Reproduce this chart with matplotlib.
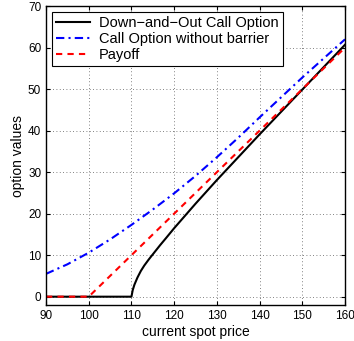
import matplotlib
matplotlib.use("Agg")
import matplotlib.pyplot as plt

plt.rcParams['font.family'] = ['Liberation Sans', 'DejaVu Sans']

# Down-and-Out Call Option
s_dao = [90, 100, 110, 110.3, 110.7, 111.4, 112.2, 113, 114, 115, 116.7, 118, 120,
         125, 130, 135, 140, 145, 150, 155, 160]
v_dao = [0, 0, 0, 1.6, 2.9, 4.6, 6.2, 7.5, 8.9, 10.2, 12.4, 14.0, 16.5,
         22.4, 28.1, 33.6, 39.1, 44.5, 49.9, 55.3, 60.7]

# Call Option without barrier
s_call = [90, 95, 100, 105, 110, 115, 120, 125, 130, 135, 140, 145, 150, 155, 160]
v_call = [5.5, 7.8, 10.6, 13.8, 17.3, 21.0, 24.9, 29.1, 33.6, 38.3, 43.2, 48.0, 52.8, 57.4, 62.0]

# Payoff
s_pay = [90, 100, 160]
v_pay = [0, 0, 60]

xticks = [90, 100, 110, 120, 130, 140, 150, 160]
yticks = [0, 10, 20, 30, 40, 50, 60, 70]

fig = plt.figure(figsize=(3.54, 3.41), dpi=100)
ax = fig.add_axes([0.130, 0.1056, 0.8446, 0.8764])

ax.plot(s_dao, v_dao, color='black', lw=1.5, label='Down\u2212and\u2212Out Call Option')
ax.plot(s_call, v_call, color='blue', lw=1.5, ls=(0, (4, 2, 1, 2)), label='Call Option without barrier')
ax.plot(s_pay, v_pay, color='red', lw=1.5, ls=(0, (3, 2.5)), label='Payoff')

ax.set_xlim(90, 160)
ax.set_ylim(-2, 70)
ax.set_xticks(xticks)
ax.set_yticks(yticks)
ax.tick_params(direction='in', top=True, right=True, length=3, labelsize=8.5, width=0.8)
ax.grid(True, ls=(0, (1, 3)), color='0.35', lw=0.6)
for sp in ax.spines.values():
    sp.set_linewidth(1.0)

ax.set_xlabel('current spot price', fontsize=10, labelpad=2)
ax.set_ylabel('option values', fontsize=10, labelpad=2)

leg = ax.legend(loc='upper left', fontsize=10.5, handlelength=2.3, fancybox=False,
                framealpha=1, edgecolor='black', borderaxespad=0.4,
                borderpad=0.3, labelspacing=0.12, handletextpad=0.6)
leg.get_frame().set_linewidth(0.8)

fig.savefig('out.png', dpi=100)
